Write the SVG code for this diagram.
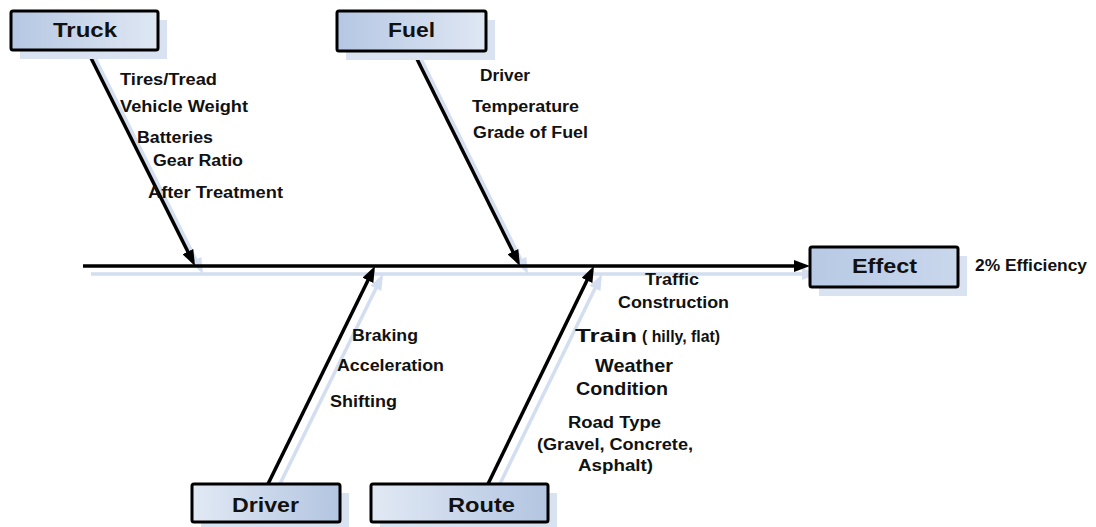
<svg xmlns="http://www.w3.org/2000/svg" width="1096" height="527" viewBox="0 0 1096 527">
  <defs>
    <linearGradient id="gradDark" x1="0" y1="0" x2="1" y2="0">
      <stop offset="0" stop-color="#b5c7e3"/>
      <stop offset="1" stop-color="#dfe7f3"/>
    </linearGradient>
    <linearGradient id="gradLight" x1="0" y1="0" x2="1" y2="0">
      <stop offset="0" stop-color="#e1e9f4"/>
      <stop offset="1" stop-color="#b3c5e1"/>
    </linearGradient>
    <linearGradient id="gradEffect" x1="0" y1="0" x2="1" y2="0">
      <stop offset="0" stop-color="#b7c9e4"/>
      <stop offset="1" stop-color="#c9d7ec"/>
    </linearGradient>
    <marker id="arrow" viewBox="0 0 16 12" refX="11" refY="6" markerWidth="16" markerHeight="12" markerUnits="userSpaceOnUse" orient="auto">
      <path d="M0,0 L16,6 L0,12 z" fill="#000"/>
    </marker>
    <marker id="arrowShadow" viewBox="0 0 16 12" refX="11" refY="6" markerWidth="16" markerHeight="12" markerUnits="userSpaceOnUse" orient="auto">
      <path d="M0,0 L16,6 L0,12 z" fill="#d3def0"/>
    </marker>
  </defs>
  <style>
    .shadow { fill: #d9e2f1; }
    .box { stroke: #000; stroke-width: 3; }
    .title { font-family: "Liberation Sans", Arial, sans-serif; font-weight: bold; font-size: 21px; fill: #111; }
    .label { font-family: "Liberation Sans", Arial, sans-serif; font-weight: bold; font-size: 16px; fill: #111; }
    .big { font-family: "Liberation Sans", Arial, sans-serif; font-weight: bold; font-size: 19px; fill: #111; }
    .bone { stroke: #000; stroke-width: 3.5; fill: none; marker-end: url(#arrow); }
    .boneShadow { stroke: #d3def0; stroke-width: 3.5; fill: none; marker-end: url(#arrowShadow); }
  </style>

  <rect width="1096" height="527" fill="#fff"/>

  <!-- connectors: soft offset shadow first, then the black bones -->
  <g id="connectors">
    <g transform="translate(8,8)">
      <line class="boneShadow" x1="83" y1="266" x2="805" y2="266"/>
      <line class="boneShadow" x1="87" y1="50" x2="192.8" y2="261.5"/>
      <line class="boneShadow" x1="413" y1="51" x2="517.8" y2="261.5"/>
      <line class="boneShadow" x1="268" y1="484" x2="372.8" y2="270.5"/>
      <line class="boneShadow" x1="488" y1="484" x2="591.8" y2="270.5"/>
    </g>
    <line class="bone" x1="83" y1="266" x2="805" y2="266"/>
    <line class="bone" x1="87" y1="50" x2="192.8" y2="261.5"/>
    <line class="bone" x1="413" y1="51" x2="517.8" y2="261.5"/>
    <line class="bone" x1="268" y1="484" x2="372.8" y2="270.5"/>
    <line class="bone" x1="488" y1="484" x2="591.8" y2="270.5"/>
  </g>

  <g id="truck">
    <rect class="shadow" x="20" y="20" width="147" height="39"/>
    <rect class="box" x="11" y="11" width="147" height="39" rx="2" fill="url(#gradDark)"/>
    <text class="title" x="53" y="37" textLength="64" lengthAdjust="spacingAndGlyphs">Truck</text>
    <text class="label" x="120" y="85" textLength="97" lengthAdjust="spacingAndGlyphs">Tires/Tread</text>
    <text class="label" x="120" y="112" textLength="128" lengthAdjust="spacingAndGlyphs">Vehicle Weight</text>
    <text class="label" x="137" y="143" textLength="76" lengthAdjust="spacingAndGlyphs">Batteries</text>
    <text class="label" x="153" y="166" textLength="90" lengthAdjust="spacingAndGlyphs">Gear Ratio</text>
    <text class="label" x="148" y="198" textLength="135" lengthAdjust="spacingAndGlyphs">After Treatment</text>
  </g>

  <g id="fuel">
    <rect class="shadow" x="346" y="20" width="149" height="40"/>
    <rect class="box" x="337" y="11" width="149" height="40" rx="2" fill="url(#gradDark)"/>
    <text class="title" x="388" y="37" textLength="47" lengthAdjust="spacingAndGlyphs">Fuel</text>
    <text class="label" x="480" y="81" textLength="50" lengthAdjust="spacingAndGlyphs">Driver</text>
    <text class="label" x="472" y="112" textLength="107" lengthAdjust="spacingAndGlyphs">Temperature</text>
    <text class="label" x="473" y="138" textLength="115" lengthAdjust="spacingAndGlyphs">Grade of Fuel</text>
  </g>

  <g id="effect">
    <rect class="shadow" x="819" y="256" width="148" height="40"/>
    <rect class="box" x="810" y="247" width="148" height="40" rx="2" fill="url(#gradEffect)"/>
    <text class="title" x="852" y="273" textLength="65" lengthAdjust="spacingAndGlyphs">Effect</text>
    <text class="label" x="975" y="271" textLength="112" lengthAdjust="spacingAndGlyphs">2% Efficiency</text>
  </g>

  <g id="driver">
    <rect class="shadow" x="201" y="493" width="148" height="38"/>
    <rect class="box" x="192" y="484" width="148" height="38" rx="2" fill="url(#gradLight)"/>
    <text class="title" x="232" y="512" textLength="67" lengthAdjust="spacingAndGlyphs">Driver</text>
    <text class="label" x="352" y="341" textLength="66" lengthAdjust="spacingAndGlyphs">Braking</text>
    <text class="label" x="337" y="371" textLength="107" lengthAdjust="spacingAndGlyphs">Acceleration</text>
    <text class="label" x="330" y="407" textLength="67" lengthAdjust="spacingAndGlyphs">Shifting</text>
  </g>

  <g id="route">
    <rect class="shadow" x="380" y="493" width="177" height="38"/>
    <rect class="box" x="371" y="484" width="177" height="38" rx="2" fill="url(#gradLight)"/>
    <text class="title" x="448" y="512" textLength="67" lengthAdjust="spacingAndGlyphs">Route</text>
    <text class="label" x="645" y="285" textLength="54" lengthAdjust="spacingAndGlyphs">Traffic</text>
    <text class="label" x="618" y="308" textLength="111" lengthAdjust="spacingAndGlyphs">Construction</text>
    <text class="big" x="575" y="342" font-size="20" textLength="62" lengthAdjust="spacingAndGlyphs">Train</text>
    <text class="label" x="642" y="342" textLength="78" lengthAdjust="spacingAndGlyphs">( hilly, flat)</text>
    <text class="big" x="595" y="372" textLength="78" lengthAdjust="spacingAndGlyphs">Weather</text>
    <text class="big" x="576" y="395" textLength="92" lengthAdjust="spacingAndGlyphs">Condition</text>
    <text class="label" x="568" y="428" textLength="93" lengthAdjust="spacingAndGlyphs">Road Type</text>
    <text class="label" x="537" y="450" textLength="156" lengthAdjust="spacingAndGlyphs">(Gravel, Concrete,</text>
    <text class="label" x="578" y="471" textLength="75" lengthAdjust="spacingAndGlyphs">Asphalt)</text>
  </g>
</svg>
